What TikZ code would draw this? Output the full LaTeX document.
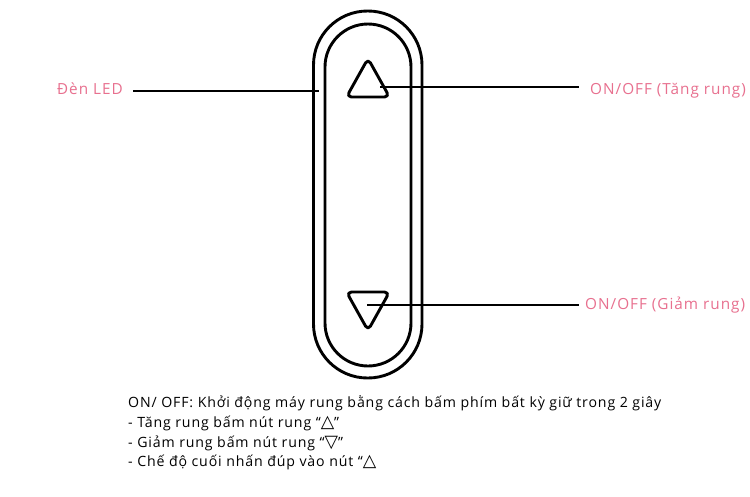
\documentclass[tikz,border=0pt]{standalone}
\usepackage{fontspec}
\setmainfont{Open Sans}
\newfontfamily\labelfont[LetterSpace=6.5]{Open Sans}
\newfontfamily\notefont[LetterSpace=6]{Open Sans}
\newfontfamily\symfont{DejaVu Sans}
\newcommand{\tri}[1]{{\symfont\fontsize{17.5}{16}\selectfont #1}}
\definecolor{labelpink}{HTML}{E8708F}
\tikzset{
  body/.style={draw=black,line width=2.9pt,rounded corners=#1},
  btn/.style={draw=black,line width=2.9pt,line join=round,rounded corners=5pt},
  lead/.style={draw=black,line width=2.1pt},
  callout/.style={text=labelpink,font=\labelfont\fontsize{15.3}{17}\selectfont,inner sep=0pt,anchor=base west},
  note/.style={text=black,font=\notefont\fontsize{14.15}{16}\selectfont,inner sep=0pt,anchor=base west}
}
\begin{document}
\begin{tikzpicture}[x=1pt,y=-1pt]
\useasboundingbox (0,0) rectangle (750,496);
\path[fill=white] (0,0) rectangle (750,496);
\draw[body=54pt] (313.5,11) rectangle (422,378);
\draw[body=43pt] (325,24) rectangle (411,366);
\draw[btn] (368,58.5) -- (389.5,97) -- (346.5,97) -- cycle;
\draw[btn] (368,330.5) -- (389.5,292) -- (346.5,292) -- cycle;
\coordinate (ledA) at (133,91);
\coordinate (ledB) at (319,91);
\coordinate (upA) at (380,87);
\coordinate (upB) at (579,87);
\coordinate (dnA) at (367,305);
\coordinate (dnB) at (579,305);
\draw[lead] (ledA) -- (ledB);
\draw[lead] (upA) -- (upB);
\draw[lead] (dnA) -- (dnB);
\node[callout] (led) at (57,94) {Đèn LED};
\node[callout] (tang) at (590,94) {ON/OFF (Tăng rung)};
\node[callout] (giam) at (585,309) {ON/OFF (Giảm rung)};
\node[note] (n1) at (128,407) {ON/ OFF: Khởi động máy rung bằng cách bấm phím bất kỳ giữ trong 2 giây};
\node[note] (n2) at (128,427) {- Tăng rung bấm nút rung “\tri{△}”};
\node[note] (n3) at (128,447) {- Giảm rung bấm nút rung “\tri{▽}”};
\node[note] (n4) at (128,466) {- Chế độ cuối nhấn đúp vào nút “\tri{△}};
\end{tikzpicture}
\end{document}
